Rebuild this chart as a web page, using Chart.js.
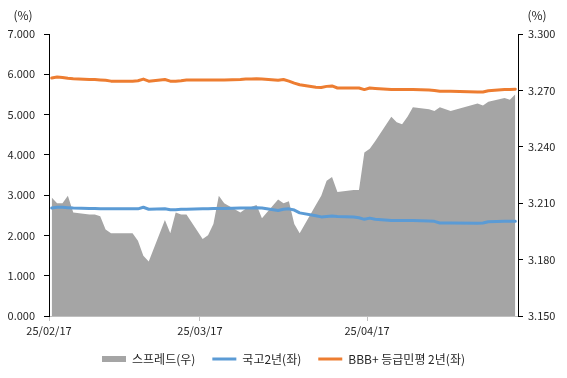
<!DOCTYPE html>
<html>
<head>
<meta charset="utf-8">
<script src="https://cdn.jsdelivr.net/npm/chart.js@4"></script>
<style>
  html, body { margin: 0; padding: 0; background: #fff; }
  #wrap { width: 567px; height: 378px; }
</style>
</head>
<body>
<div id="wrap"><canvas id="spreadChart" width="567" height="378"></canvas></div>
<script>
const dates = [
  "2025-02-17","2025-02-18","2025-02-19","2025-02-20","2025-02-21",
  "2025-02-24","2025-02-25","2025-02-26","2025-02-27","2025-02-28",
  "2025-03-04","2025-03-05","2025-03-06","2025-03-07",
  "2025-03-10","2025-03-11","2025-03-12","2025-03-13","2025-03-14",
  "2025-03-17","2025-03-18","2025-03-19","2025-03-20","2025-03-21",
  "2025-03-24","2025-03-25","2025-03-26","2025-03-27","2025-03-28",
  "2025-03-31","2025-04-01","2025-04-02","2025-04-03","2025-04-04",
  "2025-04-07","2025-04-08","2025-04-09","2025-04-10","2025-04-11",
  "2025-04-14","2025-04-15","2025-04-16","2025-04-17","2025-04-18",
  "2025-04-21","2025-04-22","2025-04-23","2025-04-24","2025-04-25",
  "2025-04-28","2025-04-29","2025-04-30","2025-05-02",
  "2025-05-07","2025-05-08","2025-05-09",
  "2025-05-12","2025-05-13","2025-05-14"
];

// 스프레드 (right axis)
const spread = [
  3.213, 3.210, 3.210, 3.214, 3.205,
  3.204, 3.204, 3.203, 3.196, 3.194,
  3.194, 3.190, 3.182, 3.179,
  3.201, 3.194, 3.205, 3.204, 3.204,
  3.191, 3.193, 3.199, 3.214, 3.210,
  3.205, 3.207, 3.208, 3.209, 3.202,
  3.212, 3.210, 3.211, 3.199, 3.194,
  3.209, 3.214, 3.222, 3.224, 3.216,
  3.217, 3.217, 3.237, 3.239, 3.243,
  3.256, 3.253, 3.252, 3.256, 3.261,
  3.260, 3.259, 3.261, 3.259,
  3.263, 3.262, 3.264,
  3.266, 3.265, 3.268
];

// 국고2년 (left axis)
const ktb2y = [
  2.68, 2.70, 2.70, 2.69, 2.68,
  2.67, 2.67, 2.66, 2.66, 2.66,
  2.66, 2.66, 2.70, 2.65,
  2.66, 2.64, 2.64, 2.65, 2.65,
  2.66, 2.66, 2.67, 2.67, 2.67,
  2.68, 2.68, 2.68, 2.69, 2.68,
  2.62, 2.65, 2.66, 2.63, 2.56,
  2.49, 2.46, 2.47, 2.48, 2.47,
  2.46, 2.44, 2.40, 2.43, 2.40,
  2.37, 2.37, 2.37, 2.37, 2.37,
  2.36, 2.35, 2.31, 2.31,
  2.30, 2.31, 2.34,
  2.35, 2.35, 2.35
];

// BBB+ 등급민평 2년 (left axis)
const bbb2y = [
  5.91, 5.93, 5.92, 5.90, 5.89,
  5.87, 5.87, 5.86, 5.85, 5.83,
  5.83, 5.84, 5.88, 5.83,
  5.87, 5.83, 5.83, 5.84, 5.86,
  5.86, 5.86, 5.86, 5.86, 5.86,
  5.87, 5.88, 5.88, 5.89, 5.88,
  5.85, 5.87, 5.83, 5.78, 5.74,
  5.68, 5.67, 5.70, 5.71, 5.66,
  5.66, 5.66, 5.62, 5.66, 5.65,
  5.62, 5.62, 5.62, 5.62, 5.62,
  5.61, 5.60, 5.58, 5.58,
  5.56, 5.56, 5.59,
  5.62, 5.62, 5.63
];

const tickDates = ["2025-02-17", "2025-03-17", "2025-04-17"];
const tickLabels = ["25/02/17", "25/03/17", "25/04/17"];
const axisEndDate = "2025-05-15";
const leftTicks = [0, 1, 2, 3, 4, 5, 6, 7];
const rightTicks = [3.15, 3.18, 3.21, 3.24, 3.27, 3.30];
const seriesNames = ["스프레드(우)", "국고2년(좌)", "BBB+ 등급민평 2년(좌)"];

const DAY = 86400000;
const t0 = Date.parse(dates[0]);
const dayOf = s => (Date.parse(s) - t0) / DAY;
// each date sits in the middle of its day slot (Excel date axis)
const pts = vals => vals.map((v, i) => ({ x: dayOf(dates[i]) + 0.5, y: v }));

const FONT = "'Noto Sans CJK KR', 'Noto Sans', sans-serif";
const TEXT = "#262626";

const unitLabels = {
  id: "unitLabels",
  afterDraw(chart) {
    const ctx = chart.ctx;
    ctx.save();
    ctx.font = "12px " + FONT;
    ctx.fillStyle = TEXT;
    ctx.textAlign = "center";
    ctx.textBaseline = "middle";
    ctx.fillText("(%)", 23, 15);
    ctx.fillText("(%)", 537, 15);
    ctx.restore();
  }
};

// pull the legend row up a little (it sits closer to the axis labels)
const legendNudge = {
  id: "legendNudge",
  afterLayout(chart) {
    if (!chart.legend) return;
    chart.legend.top -= 3;
    chart.legend.bottom -= 3;
  }
};

new Chart(document.getElementById("spreadChart"), {
  type: "line",
  data: {
    datasets: [
      {
        label: seriesNames[0],
        data: pts(spread),
        yAxisID: "y2",
        backgroundColor: "#A5A5A5",
        borderColor: "#A5A5A5",
        borderWidth: 0,
        fill: "start",
        pointRadius: 0,
        tension: 0,
        order: 3
      },
      {
        label: seriesNames[1],
        data: pts(ktb2y),
        yAxisID: "y",
        borderColor: "#5B9BD5",
        backgroundColor: "#5B9BD5",
        borderWidth: 3,
        borderJoinStyle: "round",
        borderCapStyle: "round",
        pointRadius: 0,
        fill: false,
        tension: 0,
        order: 2
      },
      {
        label: seriesNames[2],
        data: pts(bbb2y),
        yAxisID: "y",
        borderColor: "#ED7D31",
        backgroundColor: "#ED7D31",
        borderWidth: 3,
        borderJoinStyle: "round",
        borderCapStyle: "round",
        pointRadius: 0,
        fill: false,
        tension: 0,
        order: 1
      }
    ]
  },
  options: {
    responsive: false,
    animation: false,
    devicePixelRatio: 1,
    layout: { padding: { top: 34, left: 0, right: 0, bottom: 0 } },
    plugins: {
      tooltip: { enabled: false },
      legend: {
        position: "bottom",
        labels: {
          font: { family: FONT, size: 12 },
          color: TEXT,
          usePointStyle: true,
          pointStyleWidth: 24,
          boxHeight: 6,
          padding: 17,
          generateLabels(chart) {
            return chart.data.datasets.map((ds, i) => ({
              text: ds.label,
              datasetIndex: i,
              pointStyle: i === 0 ? "rect" : "line",
              fillStyle: ds.backgroundColor,
              strokeStyle: ds.borderColor,
              lineWidth: i === 0 ? 0 : 3,
              fontColor: TEXT,
              hidden: false
            }));
          }
        }
      }
    },
    scales: {
      x: {
        type: "linear",
        min: 0,
        max: dayOf(axisEndDate),
        afterBuildTicks: s => { s.ticks = tickDates.map(d => ({ value: dayOf(d) })); },
        afterFit: s => { s.height = 23; },
        ticks: {
          font: { family: FONT, size: 11 },
          color: TEXT,
          padding: 3,
          maxRotation: 0,
          callback: v => tickLabels[tickDates.findIndex(d => dayOf(d) === v)]
        },
        grid: { drawOnChartArea: false, drawTicks: true, tickLength: 5, color: "#BFBFBF" },
        border: { color: "#BFBFBF", width: 1 }
      },
      y: {
        position: "left",
        min: leftTicks[0],
        max: leftTicks[leftTicks.length - 1],
        afterBuildTicks: s => { s.ticks = leftTicks.map(v => ({ value: v })); },
        afterFit: s => { s.width = 49; },
        ticks: {
          font: { family: FONT, size: 11 },
          color: TEXT,
          padding: 9,
          callback: v => v.toFixed(3)
        },
        grid: { drawOnChartArea: false, drawTicks: true, tickLength: 5, color: "#000" },
        border: { color: "#000", width: 1 }
      },
      y2: {
        position: "right",
        min: rightTicks[0],
        max: rightTicks[rightTicks.length - 1],
        afterBuildTicks: s => { s.ticks = rightTicks.map(v => ({ value: v })); },
        afterFit: s => { s.width = 49; },
        ticks: {
          font: { family: FONT, size: 11 },
          color: TEXT,
          padding: 5,
          callback: v => v.toFixed(3)
        },
        grid: { drawOnChartArea: false, drawTicks: true, tickLength: 5, color: "#000" },
        border: { color: "#000", width: 1 }
      }
    }
  },
  plugins: [unitLabels, legendNudge]
});
</script>
</body>
</html>
